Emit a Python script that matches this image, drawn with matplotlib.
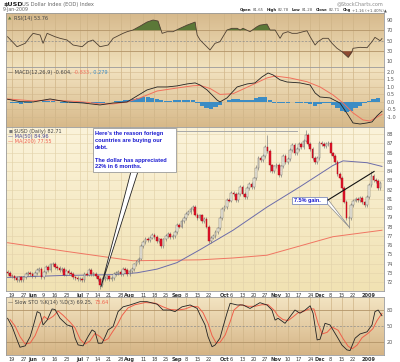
import numpy as np
import pandas as pd
import matplotlib
matplotlib.use("Agg")
import matplotlib.pyplot as plt
from matplotlib.patches import Rectangle, Polygon
from matplotlib.text import Annotation
from matplotlib.colors import to_rgb

plt.rcParams['font.family'] = ['DejaVu Sans']

W, H = 400, 362

# trading days shown on the chart
holidays = ['2008-05-26', '2008-07-04', '2008-09-01', '2008-11-27', '2008-12-25', '2009-01-01']
dates = pd.bdate_range('2008-05-15', '2009-01-09')
dates = dates[~dates.isin(pd.to_datetime(holidays))]

# daily closes
closes = [
    73.0, 72.7, 72.6, 72.4, 72.2, 72.5, 72.2, 72.5, 72.9, 73.0,
    72.9, 72.6, 73.0, 73.3, 73.4, 72.5, 73.1, 73.6, 73.3, 73.9,
    74.0, 73.6, 73.5, 73.3, 73.4, 72.8, 73.2, 73.0, 72.9, 72.5,
    72.4, 72.3, 72.3, 72.2, 72.9, 72.8, 73.3, 72.9, 72.9, 72.6,
    72.3, 71.7, 72.3, 72.4, 72.6, 72.3, 72.4, 72.9, 73.0, 73.1,
    72.9, 73.4, 73.3, 72.9, 73.2, 73.4, 73.9, 74.2, 74.5, 75.9,
    76.3, 76.7, 76.5, 76.8, 77.1, 76.9, 76.4, 76.6, 75.9, 76.6,
    77.0, 77.2, 76.9, 77.0, 77.4, 78.2, 78.0, 78.6, 78.9, 79.4,
    79.6, 79.9, 80.1, 79.3, 78.9, 79.2, 78.6, 78.8, 78.0, 76.4,
    76.8, 77.0, 77.4, 77.8, 78.9, 79.9, 80.1, 80.9, 80.8, 81.6,
    81.5, 80.9, 81.5, 82.3, 81.5, 81.2, 82.2, 82.6, 82.3, 83.2,
    84.3, 85.4, 85.2, 85.6, 86.6, 86.2, 84.6, 84.0, 84.5, 84.7,
    83.6, 84.5, 85.6, 85.0, 85.3, 86.3, 86.8, 85.9, 86.4, 86.9,
    86.6, 87.3, 87.9, 86.9, 86.4, 85.4, 85.0, 85.4, 87.0, 86.9,
    86.7, 86.9, 87.0, 85.9, 85.6, 85.0, 83.7, 83.3, 82.2, 80.7,
    78.9, 78.9, 80.3, 80.8, 81.0, 80.9, 81.1, 80.6, 80.3, 81.2,
    82.5, 83.5, 83.0, 82.9, 82.2, 82.71,
]
first_open = 73.1
wick = 0.2
high_override = {115: 87.9, 132: 88.4, 161: 84.0, 110: 84.6}
low_override = {41: 71.3, 151: 77.85, 59: 74.4, 116: 83.9}

# moving averages (day index, value)
ma50_day = [0, 23.2, 46.7, 57.3, 66.2, 75.0, 85.2, 99.8, 114.8, 129.4, 144.0, 148.5, 159.1, 165.7]
ma50_val = [72.5, 72.7, 72.8, 73.0, 73.4, 74.1, 75.5, 77.6, 80.1, 82.3, 84.6, 85.1, 84.9, 84.5]
ma200_day = [0, 26.3, 40.9, 55.5, 85.2, 99.8, 114.8, 129.4, 144.0, 165.7]
ma200_val = [76.25, 75.3, 74.8, 74.3, 74.4, 74.6, 74.9, 75.9, 76.9, 77.6]

# RSI(14)
rsi_day = [0, 4.2, 7.8, 10.0, 11.3, 14.4, 15.7, 17.5, 21.0, 23.2,
           26.3, 29.0, 33.0, 35.6, 37.8, 40.9, 44.5, 46.7, 51.1, 52.9,
           55.5, 58.6, 61.7, 64.4, 66.6, 68.4, 70.6, 73.2, 76.3, 79.4,
           83.0, 83.9, 85.2, 89.6, 91.8, 94.0, 97.1, 99.3, 101.6, 102.9,
           104.2, 107.3, 110.4, 111.7, 114.8, 116.2, 118.4, 120.6, 121.9, 124.1,
           125.9, 128.1, 130.8, 132.5, 133.9, 136.1, 137.4, 139.6, 141.9, 143.6,
           145.8, 148.0, 150.7, 152.4, 152.9, 156.0, 159.1, 161.3, 162.6, 164.9, 165.7]
rsi_val = [57.4, 37.9, 44.5, 57.4, 64, 60.7, 44.5, 64, 57.4, 54.3,
           51, 41.2, 37.9, 47.7, 51, 37.9, 41.2, 54.3, 64, 67.2,
           70.5, 78, 86, 90, 88, 64, 67.2, 67.2, 73.8, 80,
           86, 60.7, 51, 31.5, 44.5, 47.7, 70.5, 73.8, 73.8, 70.5,
           73.8, 67.2, 77, 80, 82, 70.5, 70.5, 54.3, 64, 67.2,
           64, 64, 67.2, 69, 57.4, 41.2, 47.7, 54.3, 54.3, 44.5,
           34.8, 28.2, 17.2, 28.2, 34.8, 36.7, 36, 47.7, 56.2, 49.6, 53.76]

# MACD(12,26,9)
macd_day = [0, 5.5, 11.3, 18.8, 26.3, 33.4, 40.9, 46.7, 52.9, 57.3,
            61.7, 66.2, 70.6, 75.0, 79.4, 83.0, 85.2, 88.3, 92.7, 94.0,
            97.1, 101.6, 106.0, 109.5, 112.6, 115.3, 117.5, 120.6, 123.7, 129.4,
            133.9, 136.1, 138.3, 142.7, 147.1, 150.7, 152.9, 156.0, 159.1, 161.3,
            163.5, 165.7]
macd_val = [0.18, 0.02, 0.0, 0.2, 0.0, -0.07, -0.2, -0.07, 0.0, 0.4,
            0.8, 1.0, 1.0, 1.07, 1.2, 1.27, 1.13, 0.8, 0.13, 0.0,
            0.27, 1.0, 1.2, 1.27, 1.67, 1.93, 1.8, 1.47, 1.33, 1.27,
            1.13, 0.6, 0.33, 0.27, -0.07, -0.87, -1.4, -1.47, -1.4, -1.33,
            -0.93, -0.62]
sig_day = [0, 11.3, 18.8, 26.3, 33.4, 40.9, 46.7, 52.9, 58.6, 66.2,
           75.0, 82.1, 85.2, 89.6, 94.0, 99.8, 107.3, 114.8, 118.4, 125.0,
           132.5, 138.3, 144.0, 148.5, 152.9, 157.3, 160.4, 165.7]
sig_val = [0.2, 0.07, 0.13, 0.07, 0.0, -0.13, -0.13, 0.0, 0.27, 0.73,
           0.93, 1.08, 1.1, 0.9, 0.5, 0.55, 1.07, 1.6, 1.73, 1.6,
           1.35, 1.0, 0.47, -0.07, -0.73, -1.2, -1.27, -0.83]
# histogram, every second trading day
hist_val = [0.0, -0.05, -0.1, -0.12, -0.1, -0.08, -0.02, 0.03, 0.05, 0.05,
            0.04, 0.0, -0.04, -0.05, -0.06, -0.05, -0.04, -0.04, -0.03, -0.05,
            -0.06, -0.05, -0.02, 0.02, 0.05, 0.06, 0.1, 0.14, 0.2, 0.28,
            0.33, 0.32, 0.28, 0.2, 0.1, 0.05, 0.06, 0.1, 0.14, 0.16,
            0.14, 0.1, -0.05, -0.25, -0.4, -0.45, -0.35, -0.2, 0.0, 0.15,
            0.22, 0.2, 0.15, 0.12, 0.15, 0.25, 0.33, 0.35, 0.15, -0.05,
            -0.1, -0.08, -0.04, -0.02, -0.04, -0.05, -0.04, -0.15, -0.25, -0.15,
            -0.08, -0.1, -0.2, -0.4, -0.6, -0.7, -0.6, -0.42, -0.25, -0.08,
            0.08, 0.2, 0.27]

# Slow STO %K(14) %D(3)
k_day = [0, 2.0, 4.2, 5.5, 7.8, 10.0, 11.3, 13.1, 14.4, 15.7,
         17.5, 19.7, 21.0, 23.2, 26.3, 28.6, 29.9, 31.2, 33.4, 35.6,
         37.4, 38.7, 40.1, 41.8, 43.2, 44.5, 46.7, 48.9, 51.1, 54.2,
         58.6, 61.7, 66.2, 68.8, 71.9, 74.1, 77.2, 80.8, 83.9, 85.2,
         87.4, 88.7, 90.5, 91.8, 94.0, 95.4, 97.1, 98.5, 101.6, 104.2,
         107.3, 111.7, 114.8, 117.0, 118.4, 119.7, 122.8, 125.0, 127.2, 129.4,
         131.7, 133.9, 135.2, 137.0, 138.3, 140.5, 142.7, 145.8, 148.0, 150.2,
         151.6, 153.8, 156.0, 159.1, 161.3, 162.6, 164.0, 165.7]
k_val = [64.5, 48.8, 23.8, 10, 12.6, 30, 48.8, 77, 74, 52,
         61, 82, 81, 64.5, 52, 49, 27, 14.4, 12.6, 30,
         42.6, 39, 17.6, 17.6, 30, 42.6, 48.8, 77, 86, 89.5,
         95.7, 95.7, 91, 80, 80, 77, 86, 89.5, 83, 70.7,
         52, 30, 11, 14, 27, 48.8, 74, 92.7, 89.5, 89.5,
         83, 93.8, 89.5, 80, 61, 64.5, 55, 67.5, 80, 74,
         80, 88, 74, 23.8, 25, 55, 52, 30, 14, 5,
         3.8, 27, 35, 39, 52, 77, 80, 69.25]
d_day = [1.1, 3.3, 5.5, 7.8, 10.0, 12.2, 14.4, 16.2, 17.9, 20.1,
         22.4, 24.6, 27.7, 29.9, 32.1, 34.3, 36.5, 38.7, 40.9, 42.7,
         44.5, 46.3, 48.5, 50.7, 53.3, 56.4, 60.9, 65.3, 68.8, 71.9,
         75.5, 78.6, 81.6, 84.3, 86.5, 88.7, 90.5, 92.3, 94.0, 96.3,
         98.5, 100.2, 102.9, 106.4, 109.5, 112.6, 115.3, 117.9, 119.7, 121.9,
         124.1, 126.3, 128.6, 130.8, 133.4, 135.6, 137.4, 139.2, 141.4, 143.6,
         146.3, 148.5, 150.7, 152.5, 154.7, 156.9, 159.5, 161.7, 163.5, 165.7]
d_val = [62, 50, 30, 16, 18, 32, 55, 68, 62, 68,
         78, 70, 57, 46, 25, 16, 22, 36, 30, 22,
         26, 38, 52, 70, 84, 90, 94, 93, 86, 81,
         80, 82, 87, 86, 75, 55, 32, 18, 19, 33,
         58, 80, 90, 87, 87, 90, 90, 80, 69, 62,
         60, 67, 75, 77, 82, 82, 55, 35, 38, 48,
         42, 26, 12, 7, 14, 28, 36, 45, 60, 73.64]

# date axis labels
tick_dates = ['2008-05-19', '2008-05-27', '2008-06-02', '2008-06-09', '2008-06-16', '2008-06-23',
              '2008-07-01', '2008-07-07', '2008-07-14', '2008-07-21', '2008-07-28', '2008-08-01',
              '2008-08-11', '2008-08-18', '2008-08-25', '2008-09-02', '2008-09-08', '2008-09-15',
              '2008-09-22', '2008-10-01', '2008-10-06', '2008-10-13', '2008-10-20', '2008-10-27',
              '2008-11-03', '2008-11-10', '2008-11-17', '2008-11-24', '2008-12-01', '2008-12-08',
              '2008-12-15', '2008-12-22', '2009-01-02']
tick_labels = ['19', '27', 'Jun', '9', '16', '23', 'Jul', '7', '14', '21', '28', 'Aug',
               '11', '18', '25', 'Sep', '8', '15', '22', 'Oct', '6', '13', '20', '27',
               'Nov', '10', '17', '24', 'Dec', '8', '15', '22', '2009']
month_labels = {'Jun', 'Jul', 'Aug', 'Sep', 'Oct', 'Nov', 'Dec', '2009'}

# quote line in the header
header = [('Open', True), ('81.65', False), ('High', True), ('82.78', False),
          ('Low', True), ('81.28', False), ('Close', True), ('82.71', False),
          ('Chg', True), ('+1.16 (+1.40%)▲', False)]

n = len(dates)
x = np.arange(n)
c = np.array(closes)
o = np.array([first_open] + closes[:-1])
hi = np.maximum(o, c) + wick
lo = np.minimum(o, c) - wick
for k, v in high_override.items():
    hi[k] = v
for k, v in low_override.items():
    lo[k] = v
tick_pos = [dates.get_loc(pd.Timestamp(d)) for d in tick_dates]

fig = plt.figure(figsize=(W / 100, H / 100), dpi=100)
fig.patch.set_facecolor('white')


def px_axes(x0, y0, x1, y1):
    return fig.add_axes([x0 / W, 1 - y1 / H, (x1 - x0) / W, (y1 - y0) / H])


def gradient(ax, top, bottom):
    g = np.linspace(0, 1, 64)[:, None, None]
    img = np.array(to_rgb(top)) * (1 - g) + np.array(to_rgb(bottom)) * g
    ax.imshow(img, extent=[0, 1, 0, 1], transform=ax.transAxes, aspect='auto',
              zorder=0, interpolation='bilinear')


def style(ax, yticks, ylim, ylabels=None, grid='#cfb487'):
    ax.set_xlim(-0.7, 166.6)
    ax.set_ylim(*ylim)
    ax.yaxis.tick_right()
    ax.set_yticks(yticks)
    if ylabels is not None:
        ax.set_yticklabels(ylabels)
    ax.tick_params(axis='y', length=0, labelsize=3.6, labelcolor='#555555', pad=2)
    ax.tick_params(axis='x', length=0, labelsize=3.6, labelcolor='#333333', pad=1.5)
    ax.set_xticks(tick_pos)
    ax.set_xticklabels([])
    for xp in tick_pos:
        ax.axvline(xp, color=grid, lw=0.5, zorder=1)
    for sp in ax.spines.values():
        sp.set_color('#9a9a9a')
        sp.set_linewidth(0.6)


def date_labels(ax):
    ax.set_xticklabels(tick_labels)
    for t in ax.get_xticklabels():
        if t.get_text() in month_labels:
            t.set_fontweight('bold')


# ---------------- RSI ----------------
rsi_ax = px_axes(6, 13, 384, 67)
gradient(rsi_ax, '#d6b98c', '#f1e1bc')
style(rsi_ax, [10, 30, 50, 70, 90], (-1.7, 103.7))
rsi_ax.axhline(70, color='#b39468', lw=0.6, zorder=1)
rsi_ax.axhline(30, color='#b39468', lw=0.6, zorder=1)
rsi_ax.axhline(50, color='#8c8c8c', lw=0.5, ls=(0, (3, 2)), zorder=1)
rv = np.array(rsi_val)
rsi_ax.fill_between(rsi_day, rv, 70, where=rv >= 70, interpolate=True, color='#5b7838', zorder=2, lw=0)
rsi_ax.fill_between(rsi_day, rv, 30, where=rv <= 30, interpolate=True, color='#8e4a32', zorder=2, lw=0)
rsi_ax.plot(rsi_day, rv, color='#4e4032', lw=0.6, zorder=3)
rsi_ax.text(0.006, 0.93, '▲', color='#5b7838', fontsize=3.2, transform=rsi_ax.transAxes, va='top')
rsi_ax.text(0.022, 0.94, 'RSI(14) 53.76', color='#444444', fontsize=3.6, transform=rsi_ax.transAxes, va='top')

# ---------------- MACD ----------------
macd_ax = px_axes(6, 67, 384, 127)
gradient(macd_ax, '#f3e4c2', '#d7b98a')
style(macd_ax, [-1.0, -0.5, 0.0, 0.5, 1.0, 1.5, 2.0], (-1.67, 2.33),
      ['-1.0', '-0.5', '0.0', '0.5', '1.0', '1.5', '2.0'])
for yv in [-1.0, -0.5, 0.0, 0.5, 1.0, 1.5, 2.0]:
    macd_ax.axhline(yv, color='#d2b98e', lw=0.4, zorder=1)
hist_day = np.arange(0, n, 2)[:len(hist_val)]
macd_ax.bar(hist_day, hist_val, width=1.9, color='#3b8cc4', lw=0, zorder=2)
macd_ax.plot(sig_day, sig_val, color='#f26f5c', lw=0.7, zorder=3)
macd_ax.plot(macd_day, macd_val, color='#222222', lw=0.6, zorder=4)
t = macd_ax.text(0.006, 0.95, '— MACD(12,26,9) -0.604, ', color='#444444', fontsize=3.6,
                 transform=macd_ax.transAxes, va='top')
t2 = macd_ax.annotate('-0.833', xycoords=t, xy=(1, 0), va='bottom', color='#f26f5c', fontsize=3.6)
macd_ax.annotate(', 0.279', xycoords=t2, xy=(1, 0), va='bottom', color='#3b8cc4', fontsize=3.6)

# ---------------- price ----------------
pr_ax = px_axes(6, 127, 384, 291)
gradient(pr_ax, '#fbf3da', '#f1e2b3')
style(pr_ax, list(range(72, 89)), (71.03, 88.76), grid='#e3d3ab')
for yv in range(72, 89):
    pr_ax.axhline(yv, color='#e3d3ab', lw=0.4, zorder=1)
date_labels(pr_ax)
pr_ax.plot(ma200_day, ma200_val, color='#f07562', lw=0.7, zorder=2)
pr_ax.plot(ma50_day, ma50_val, color='#6c6caa', lw=0.7, zorder=2)
up = c >= o
pr_ax.vlines(x, lo, hi, color='#777777', lw=0.45, zorder=3)
body_lo = np.minimum(o, c)
body_h = np.maximum(np.abs(c - o), 0.06)
pr_ax.bar(x[up], body_h[up], bottom=body_lo[up], width=0.75, color='#fbf7ea',
          edgecolor='#6d6d6d', lw=0.35, zorder=4)
pr_ax.bar(x[~up], body_h[~up], bottom=body_lo[~up], width=0.75, color='#e0152b',
          edgecolor='#b00010', lw=0.3, zorder=4)
pr_ax.text(0.006, 0.985, '■', color='#777777', fontsize=3.0, transform=pr_ax.transAxes, va='top')
pr_ax.text(0.02, 0.99, '$USD (Daily) 82.71', color='#444444', fontsize=3.6,
           transform=pr_ax.transAxes, va='top')
pr_ax.text(0.006, 0.958, '— MA(50) 84.96', color='#4a4a9a', fontsize=3.6,
           transform=pr_ax.transAxes, va='top')
pr_ax.text(0.006, 0.927, '— MA(200) 77.55', color='#f06050', fontsize=3.6,
           transform=pr_ax.transAxes, va='top')

# ---------------- slow stochastic ----------------
sto_ax = px_axes(6, 297, 384, 355)
gradient(sto_ax, '#f3e4c2', '#d5b485')
style(sto_ax, [20, 50, 80], (-4.6, 104.5))
sto_ax.axhline(80, color='#b39468', lw=0.6, zorder=1)
sto_ax.axhline(20, color='#b39468', lw=0.6, zorder=1)
sto_ax.axhline(50, color='#8c8c8c', lw=0.5, ls=(0, (3, 2)), zorder=1)
sto_ax.plot(d_day, d_val, color='#f0604a', lw=0.7, zorder=2)
sto_ax.plot(k_day, k_val, color='#222222', lw=0.6, zorder=3)
date_labels(sto_ax)
t = sto_ax.text(0.006, 0.95, '— Slow STO %K(14) %D(3) 69.25, ', color='#444444', fontsize=3.6,
                transform=sto_ax.transAxes, va='top')
sto_ax.annotate('73.64', xycoords=t, xy=(1, 0), va='bottom', color='#f0604a', fontsize=3.6)

# ---------------- header ----------------
fig.text(3 / W, 1 - 4.5 / H, '$USD', fontsize=4.6, fontweight='bold', color='#222222', va='center')
fig.text(22 / W, 1 - 4.5 / H, 'US Dollar Index (EOD) Index', fontsize=3.7, color='#666666', va='center')
fig.text(3 / W, 1 - 10 / H, '9-Jan-2009', fontsize=3.4, color='#666666', va='center')
fig.text(383 / W, 1 - 3.5 / H, '@StockCharts.com', fontsize=3.5, color='#888888', va='center', ha='right')
prev = fig.text(239 / W, 1 - 10 / H, '', fontsize=2.8, va='center')
for k, (s, bold) in enumerate(header):
    gap = 2.0 if (bold and k > 0) else 0.8
    prev = fig.add_artist(Annotation(
        s, xy=(1, 0.5), xycoords=prev, xytext=(gap, 0), textcoords='offset points',
        fontsize=2.8, color='#222222' if bold else '#555555',
        fontweight='bold' if bold else 'normal', va='center', ha='left'))

# ---------------- annotations (figure pixel overlay) ----------------
ov = fig.add_axes([0, 0, 1, 1], zorder=10)
ov.set_xlim(0, W)
ov.set_ylim(H, 0)
ov.axis('off')
ov.patch.set_alpha(0)


def d2p(ax, xd, yd):
    dx, dy = ax.transData.transform((xd, yd))
    return dx, H - dy


tip1 = d2p(pr_ax, 41.3, 71.45)
ov.add_patch(Polygon([(131, 171.5), (138, 171.5), tip1], closed=True, fc='white',
                     ec='#222222', lw=0.6))
ov.plot([176, 297], [130.5, 130.5], color='#a8a8a8', lw=0.7)
ov.add_patch(Rectangle((93, 128), 83, 44, fc='white', ec='#9a9a9a', lw=0.6))
box_lines = ["Here's the reason foriegn", "countries are buying our", "debt.", "",
             "The dollar has appreciated", "22% in 6 months."]
for k, s in enumerate(box_lines):
    ov.text(95, 134 + k * 6.6, s, fontsize=4.1, color='#1a1ad0', fontweight='bold',
            va='center', family='Liberation Sans')

tip2 = d2p(pr_ax, 151.5, 77.85)
high2 = d2p(pr_ax, 162.2, 83.95)
ov.add_patch(Polygon([(327, 198.2), (327, 203.5), tip2], closed=True, fc='white',
                     ec='#8a8a8a', lw=0.5))
ov.plot([328, high2[0]], [200, high2[1]], color='#111111', lw=0.8)
ov.add_patch(Rectangle((292, 197), 35, 7, fc='white', ec='#7e8cbc', lw=0.6))
ov.text(294, 200.6, '7.5% gain.', fontsize=4.0, color='#1a1ad0', fontweight='bold',
        va='center', family='Liberation Sans')

fig.savefig('out.png', dpi=100, facecolor='white')
